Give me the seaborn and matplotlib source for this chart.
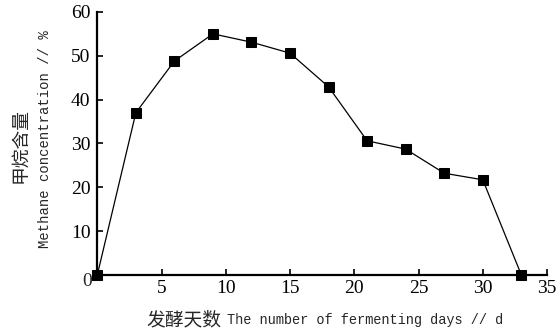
import matplotlib
matplotlib.use("Agg")
import matplotlib.pyplot as plt
import seaborn as sns
import pandas as pd

# Methane concentration over the fermentation period
days = [0, 3, 6, 9, 12, 15, 18, 21, 24, 27, 30, 33]
methane = [0.0, 37.0, 48.8, 55.0, 53.1, 50.6, 42.9, 30.6, 28.7, 23.2, 21.7, 0.0]
x_ticks = [5, 10, 15, 20, 25, 30, 35]
y_ticks = [10, 20, 30, 40, 50, 60]

df = pd.DataFrame({"day": days, "methane": methane})

sns.set_style("ticks")
num_font = ["Liberation Serif", "DejaVu Serif"]
latin_font = ["Liberation Mono", "DejaVu Sans Mono"]
cjk_font = ["Noto Sans CJK SC"]

fig = plt.figure(figsize=(5.57, 3.32), dpi=100)
ax = fig.add_axes([0.1747, 0.172, 0.8074, 0.792])

sns.lineplot(data=df, x="day", y="methane", ax=ax, color="black", linewidth=0.9,
             marker="s", markersize=6.8, markerfacecolor="black",
             markeredgecolor="black", clip_on=False, zorder=3)

ax.set_xlim(0, 35)
ax.set_ylim(0, 60)
ax.set_xticks(x_ticks)
ax.set_yticks(y_ticks)
ax.set_xticklabels([str(t) for t in x_ticks], fontfamily=num_font, fontsize=14)
ax.set_yticklabels([str(t) for t in y_ticks], fontfamily=num_font, fontsize=14)
ax.tick_params(direction="in", length=4, width=1.2, colors="black")
ax.tick_params(axis="y", pad=5)
ax.tick_params(axis="x", pad=4)
ax.set_xlabel("")
ax.set_ylabel("")

for side in ("top", "right"):
    ax.spines[side].set_visible(False)
for side in ("left", "bottom"):
    ax.spines[side].set_linewidth(1.6)
    ax.spines[side].set_color("black")

# shared origin label
fig.text(87 / 557, 1 - 282 / 332, "0", ha="center", va="center",
         fontfamily=num_font, fontsize=14)

# x axis title: Chinese part then English part
fig.text(221 / 557, 1 - 320 / 332, "发酵天数", ha="right", va="center",
         fontfamily=cjk_font, fontsize=13.5)
fig.text(227 / 557, 1 - 320 / 332, "The number of fermenting days // d",
         ha="left", va="center", fontfamily=latin_font, fontsize=9.8)

# y axis title, two lines
fig.text(20 / 557, 1 - 146 / 332, "甲烷含量", rotation=90,
         ha="center", va="center", fontfamily=cjk_font, fontsize=13.5)
fig.text(45 / 557, 1 - 139 / 332, "Methane concentration // %", rotation=90,
         ha="center", va="center", fontfamily=latin_font, fontsize=10)

fig.savefig("out.png", dpi=100, facecolor="white")
